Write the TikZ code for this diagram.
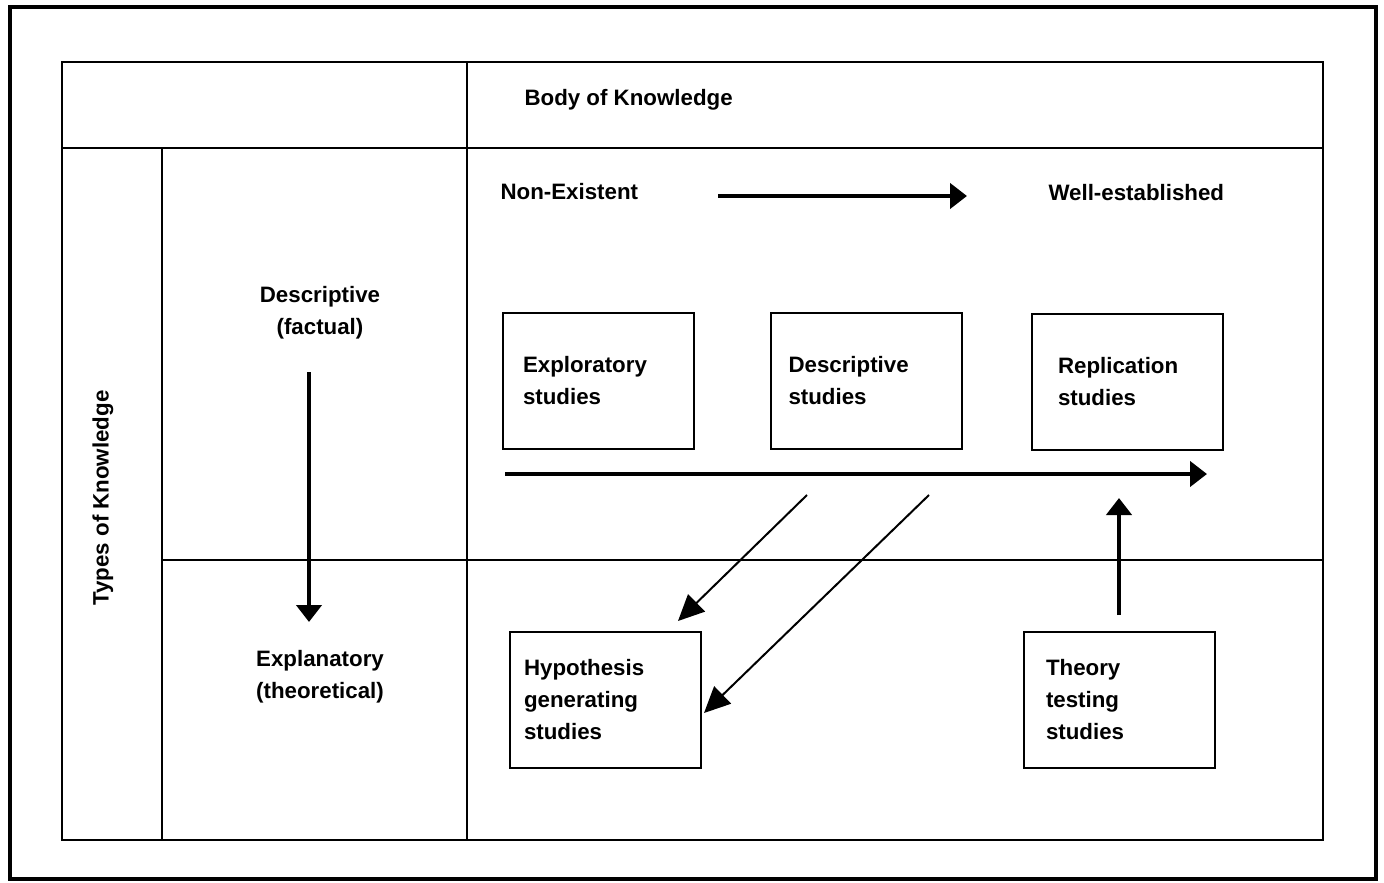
\documentclass[tikz,border=0pt]{standalone}
\usepackage{fontspec}
\setmainfont{Liberation Sans}
\usetikzlibrary{arrows.meta}
\begin{document}
\begin{tikzpicture}[x=1pt,y=-1pt,
  every node/.style={font=\fontsize{22.3}{32}\selectfont\bfseries},
  grid/.style={line width=2pt},
  studybox/.style={draw,line width=2pt,minimum width=191pt,minimum height=136pt,inner xsep=#1,text width=191pt-2*#1,align=left},
  studybox/.default=20pt,
  bigarrow/.style={line width=4.5pt,-{Triangle[length=17pt,width=25pt]}},
  diagarrow/.style={line width=2pt,-{Triangle[length=26pt,width=24pt]}}]
\useasboundingbox (0,0) rectangle (1384,883);
% outer frame
\draw[line width=4pt] (10,7) rectangle (1376,879);
% table grid
\draw[grid] (62,62) rectangle (1323,840);
\draw[line width=2.6pt] (62,148) -- (1323,148);
\draw[grid] (467,62) -- (467,840);
\draw[grid] (162,148) -- (162,840);
\draw[grid] (162,560) -- (1323,560);
% labels
\node[anchor=base west] (body) at (521,105) {Body of Knowledge};
\node[anchor=base west] (nonex) at (497,199) {Non-Existent};
\node[anchor=base west] (well) at (1045,200) {Well-established};
\node[align=center] (descr) at (320,313) {Descriptive\\(factual)};
\node[align=center] (expl) at (320,677) {Explanatory\\(theoretical)};
\node[rotate=90] (types) at (103,498) {Types of Knowledge};
% study boxes
\node[studybox=20pt] (explor) at (598.5,381) {Exploratory\\studies};
\node[studybox=18pt] (descst) at (866,381) {Descriptive\\studies};
\node[studybox=26pt] (repl) at (1127.5,381.5) {Replication\\studies};
\node[studybox=14pt] (hypo) at (605.5,699.5) {Hypothesis\\generating\\studies};
\node[studybox=22pt] (theory) at (1119.5,700) {Theory\\testing\\studies};
% connectors
\coordinate (top1) at (718,196);
\coordinate (top2) at (967,196);
\draw[bigarrow] (top1) -- (top2);
\coordinate (h1) at (505,474);
\coordinate (h2) at (1207,474);
\draw[bigarrow] (h1) -- (h2);
\coordinate (v1) at (309,372);
\coordinate (v2) at (309,622);
\draw[bigarrow] (v1) -- (v2);
\coordinate (u1) at (1119,615);
\coordinate (u2) at (1119,498);
\draw[bigarrow] (u1) -- (u2);
\coordinate (d1a) at (807,495);
\coordinate (d1b) at (678,621);
\draw[diagarrow] (d1a) -- (d1b);
\coordinate (d2a) at (929,495);
\coordinate (d2b) at (704,713);
\draw[diagarrow] (d2a) -- (d2b);
\end{tikzpicture}
\end{document}
